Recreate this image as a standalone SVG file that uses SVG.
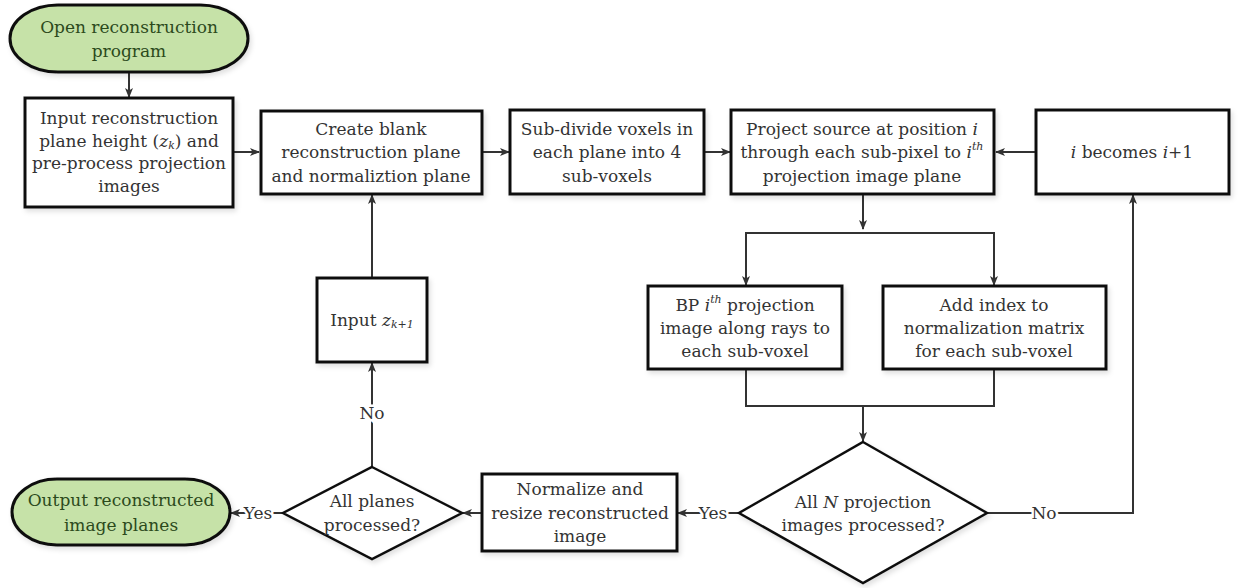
<svg xmlns="http://www.w3.org/2000/svg" width="1238" height="588" viewBox="0 0 1238 588">
<defs>
<filter id="sh" x="-10%" y="-10%" width="125%" height="130%">
<feDropShadow dx="2" dy="3" stdDeviation="2.5" flood-color="#000" flood-opacity="0.12"/>
</filter>
<marker id="ah" viewBox="0 0 10 10" refX="9" refY="5" markerWidth="10" markerHeight="10" markerUnits="userSpaceOnUse" orient="auto">
<path d="M0,1 L10,5 L0,9 L2.5,5 z" fill="#333"/>
</marker>
</defs>
<style>
.box{fill:#fff;stroke:#111;stroke-width:3;filter:url(#sh)}
.dia{fill:#fff;stroke:#111;stroke-width:2.5;filter:url(#sh)}
.term{fill:#c6e2a8;stroke:#111;stroke-width:3;filter:url(#sh)}
text{font-family:"DejaVu Serif","Liberation Serif",serif;font-size:17px;fill:#333;text-anchor:middle;dominant-baseline:central}
.tt{fill:#2c4a1c}
.c{fill:none;stroke:#333;stroke-width:2}
.ca{fill:none;stroke:#333;stroke-width:2;marker-end:url(#ah)}
.lbl{stroke:#fff;stroke-width:5;paint-order:stroke}
.it{font-style:italic}
.sm{font-size:11px}
</style>

<g id="connectors">
<path class="ca" d="M129,72 L129,97"/>
<path class="ca" d="M233,152 L259,152"/>
<path class="ca" d="M483,152 L509,152"/>
<path class="ca" d="M704,152 L730,152"/>
<path class="ca" d="M1036,152 L996,152"/>
<path class="ca" d="M863,194 L863,229"/>
<path class="c" d="M746,283 L746,233 L994,233 L994,283"/>
<path class="ca" d="M746,250 L746,285"/>
<path class="ca" d="M994,250 L994,285"/>
<path class="c" d="M746,369 L746,406 L994,406 L994,369"/>
<path class="ca" d="M863,406 L863,441"/>
<path class="ca" d="M739,513 L678,513"/>
<path class="ca" d="M482,513 L463,513"/>
<path class="ca" d="M283,513 L231,513"/>
<path class="ca" d="M372,467 L372,363"/>
<path class="ca" d="M372,278 L372,195"/>
<path class="ca" d="M987,513 L1133,513 L1133,195"/>
<text class="lbl" x="713" y="513">Yes</text>
<text class="lbl" x="258" y="513">Yes</text>
<text class="lbl" x="372" y="413">No</text>
<text class="lbl" x="1044" y="513">No</text>
</g>

<g id="start">
<rect class="term" x="10" y="5" width="238" height="67" rx="48" ry="33.5"/>
<text class="tt" x="129" y="27">Open reconstruction</text>
<text class="tt" x="129" y="51">program</text>
</g>

<g id="input">
<rect class="box" x="25" y="98" width="208" height="109"/>
<text x="129" y="118">Input reconstruction</text>
<text x="129" y="141">plane height (<tspan class="it">z</tspan><tspan class="it sm" dy="4">k</tspan><tspan dy="-4">) and</tspan></text>
<text x="129" y="163">pre-process projection</text>
<text x="129" y="186">images</text>
</g>

<g id="create">
<rect class="box" x="261" y="111" width="221" height="83"/>
<text x="371" y="129">Create blank</text>
<text x="371" y="152">reconstruction plane</text>
<text x="371" y="176">and normaliztion plane</text>
</g>

<g id="subdivide">
<rect class="box" x="510" y="110" width="194" height="84"/>
<text x="607" y="129">Sub-divide voxels in</text>
<text x="607" y="152">each plane into 4</text>
<text x="607" y="176">sub-voxels</text>
</g>

<g id="project">
<rect class="box" x="731" y="110" width="263" height="84"/>
<text x="862" y="129">Project source at position <tspan class="it">i</tspan></text>
<text x="862" y="152">through each sub-pixel to <tspan class="it">i</tspan><tspan class="it sm" dy="-6">th</tspan></text>
<text x="862" y="176">projection image plane</text>
</g>

<g id="increment">
<rect class="box" x="1036" y="110" width="193" height="84"/>
<text x="1132" y="152"><tspan class="it">i</tspan> becomes <tspan class="it">i</tspan>+1</text>
</g>

<g id="backproject">
<rect class="box" x="648" y="286" width="194" height="83"/>
<text x="745" y="305">BP  <tspan class="it">i</tspan><tspan class="it sm" dy="-6">th</tspan><tspan dy="6"> projection</tspan></text>
<text x="745" y="328">image along rays to</text>
<text x="745" y="351">each sub-voxel</text>
</g>

<g id="addindex">
<rect class="box" x="883" y="286" width="223" height="83"/>
<text x="994" y="305">Add index to</text>
<text x="994" y="328">normalization matrix</text>
<text x="994" y="351">for each sub-voxel</text>
</g>

<g id="inputz">
<rect class="box" x="317" y="278" width="110" height="84"/>
<text x="372" y="320">Input <tspan class="it">z</tspan><tspan class="it sm" dy="4">k+1</tspan></text>
</g>

<g id="allN">
<polygon class="dia" points="863,442 987,513 863,583 739,513"/>
<text x="863" y="502">All  <tspan class="it">N</tspan> projection</text>
<text x="863" y="525">images processed?</text>
</g>

<g id="normalize">
<rect class="box" x="482" y="474" width="195" height="77"/>
<text x="580" y="489">Normalize and</text>
<text x="580" y="513">resize reconstructed</text>
<text x="580" y="536">image</text>
</g>

<g id="allplanes">
<polygon class="dia" points="372,467 462,513 372,559 283,513"/>
<text x="372" y="501">All planes</text>
<text x="372" y="525">processed?</text>
</g>

<g id="output">
<rect class="term" x="12" y="479" width="218" height="66" rx="45" ry="33"/>
<text class="tt" x="121" y="500">Output reconstructed</text>
<text class="tt" x="121" y="525">image planes</text>
</g>
</svg>
